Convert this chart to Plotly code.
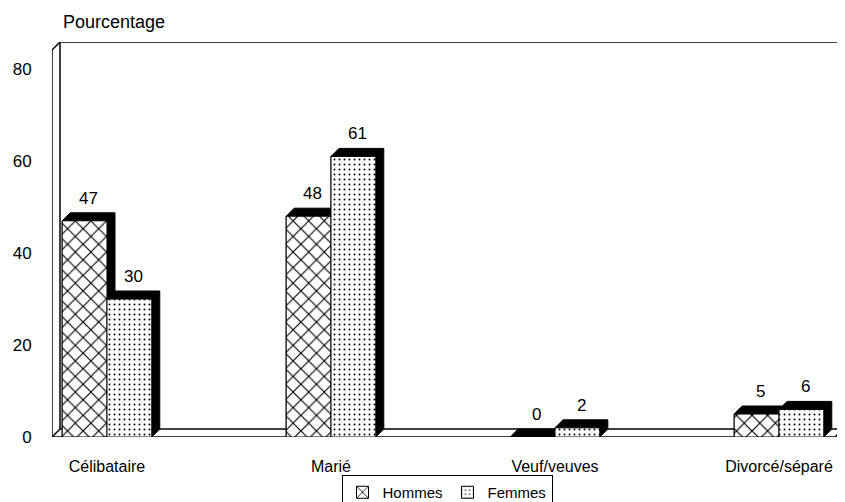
import plotly.graph_objects as go

categories = ["Célibataire", "Marié", "Veuf/veuves", "Divorcé/séparé"]
hommes = [47, 48, 0, 5]
femmes = [30, 61, 2, 6]
y_ticks = [0, 20, 40, 60, 80]
series_names = ["Hommes", "Femmes"]

# the page body has an 8px margin: size the figure so it fits the 845x502 window
W, H = 837, 494
FONT = "Liberation Sans, Arial, sans-serif"
FS = 17

# axis geometry (data units)
x_pos = list(range(len(categories)))
bar_w = 0.2
x_min, x_max = -0.2455, 3.2946
y_min, y_max = 0.0, 85.87
dx = 8 / 224.0      # depth offset in x units
dy = 8 / 4.6        # depth offset in y units
x_back_right = 3.2857
x_front_right = 3.25

PW, PH = 793.0, 395.0   # plot area size in pixels

fig = go.Figure()

shapes = []
line = dict(color="black", width=1.5)
# walls and floor
shapes.append(dict(type="line", xref="x", yref="y", x0=x_min, y0=0, x1=x_min, y1=y_max - dy, line=line, layer="below"))
shapes.append(dict(type="line", xref="x", yref="y", x0=x_min, y0=y_max - dy, x1=x_min + dx, y1=y_max, line=line, layer="below"))
shapes.append(dict(type="line", xref="x", yref="y", x0=x_min + dx, y0=dy, x1=x_min + dx, y1=y_max, line=line, layer="below"))
shapes.append(dict(type="line", xref="x", yref="y", x0=x_min + dx, y0=y_max, x1=x_back_right, y1=y_max, line=line, layer="below"))
shapes.append(dict(type="line", xref="x", yref="y", x0=x_back_right, y0=dy, x1=x_back_right, y1=y_max, line=line, layer="below"))
shapes.append(dict(type="line", xref="x", yref="y", x0=x_min, y0=0, x1=x_front_right, y1=0, line=line, layer="below"))
shapes.append(dict(type="line", xref="x", yref="y", x0=x_min + dx, y0=dy, x1=x_back_right, y1=dy, line=line, layer="below"))
shapes.append(dict(type="line", xref="x", yref="y", x0=x_min, y0=0, x1=x_min + dx, y1=dy, line=line, layer="below"))
shapes.append(dict(type="line", xref="x", yref="y", x0=x_front_right, y0=0, x1=x_back_right, y1=dy, line=line, layer="below"))


def depth_path(xl, xr, v):
    return (f"M {xl},{v} L {xl+dx},{v+dy} L {xr+dx},{v+dy} "
            f"L {xr+dx},{dy} L {xr},0 L {xl},0 Z")


annotations = []
for vals, off in ((hommes, -bar_w), (femmes, 0.0)):
    for xi, v in zip(x_pos, vals):
        xl = xi + off
        xr = xl + bar_w
        shapes.append(dict(type="path", xref="x", yref="y", path=depth_path(xl, xr, v),
                           fillcolor="black", line=dict(color="black", width=1), layer="below"))
        annotations.append(dict(x=(xl + xr) / 2 + dx / 2, y=v + dy, xref="x", yref="y",
                                text=str(v), showarrow=False, yanchor="bottom", yshift=3,
                                font=dict(family=FONT, size=FS, color="black")))

fig.add_trace(go.Bar(
    x=x_pos, y=hommes, name=series_names[0], width=bar_w, offset=-bar_w,
    marker=dict(color="white", line=dict(color="black", width=1),
                pattern=dict(shape="x", fgcolor="black", bgcolor="white", size=11, solidity=0.2, fgopacity=1)),
))
fig.add_trace(go.Bar(
    x=x_pos, y=femmes, name=series_names[1], width=bar_w, offset=0,
    marker=dict(color="white", line=dict(color="black", width=1),
                pattern=dict(shape=".", fgcolor="black", bgcolor="white", size=5, solidity=0.12, fgopacity=1)),
))

annotations.append(dict(x=(61 - 52) / PW, y=(437 - 22) / PH, xref="paper", yref="paper", text="Pourcentage",
                        showarrow=False, xanchor="left", yanchor="middle",
                        font=dict(family=FONT, size=18, color="black")))

fig.update_layout(
    width=W, height=H,
    margin=dict(l=44, r=0, t=34, b=65, autoexpand=False),
    paper_bgcolor="white", plot_bgcolor="white",
    barmode="overlay",
    showlegend=True,
    legend=dict(orientation="h", x=(447 - 52) / PW, xanchor="center", y=(437 - 475) / PH, yanchor="top",
                bordercolor="black", borderwidth=1, bgcolor="white",
                font=dict(family=FONT, size=15, color="black"), itemwidth=30,
                traceorder="normal", tracegroupgap=0),
    shapes=shapes,
    annotations=annotations,
    font=dict(family=FONT, size=FS, color="black"),
    xaxis=dict(range=[x_min, x_max], tickvals=x_pos, ticktext=categories, automargin=False,
               showgrid=False, zeroline=False, showline=False,
               ticks="outside", ticklen=15, tickcolor="rgba(0,0,0,0)",
               tickfont=dict(family=FONT, size=FS - 1, color="black")),
    yaxis=dict(range=[y_min, y_max], tickvals=y_ticks, automargin=False,
               showgrid=False, zeroline=False, showline=False,
               ticks="outside", ticklen=16, tickcolor="rgba(0,0,0,0)",
               tickfont=dict(family=FONT, size=FS, color="black")),
)

fig.write_html("out.html")
